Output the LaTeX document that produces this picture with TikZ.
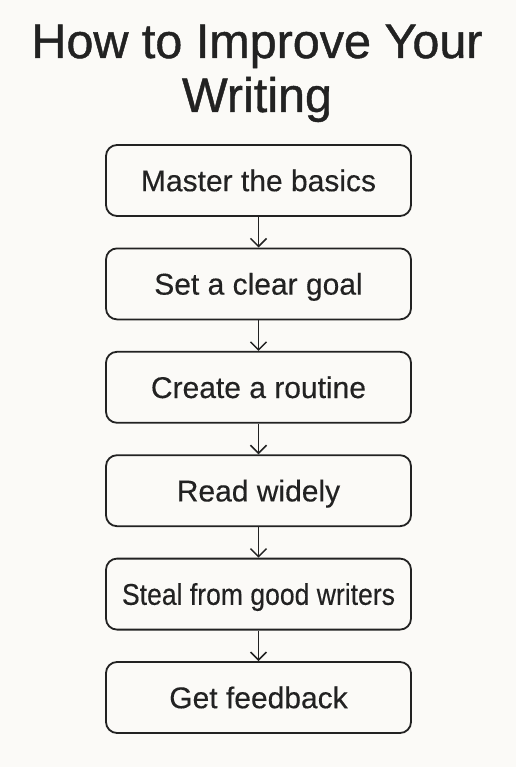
\documentclass[tikz,border=0pt]{standalone}
\usepackage{fontspec}
\setmainfont[FakeBold=0.3]{Liberation Sans}
\newfontfamily\titlefont[FakeBold=0.9]{Liberation Sans}
\usetikzlibrary{arrows.meta}
\definecolor{bg}{HTML}{FBFAF7}
\definecolor{ink}{HTML}{222222}
\begin{document}
\begin{tikzpicture}[x=1pt,y=-1pt,
  stepbox/.style={draw=ink, line width=1.8pt, rounded corners=11pt, minimum width=305pt, minimum height=71pt, inner sep=0pt, text=ink, text height=21.4pt, text depth=0pt, font=\fontsize{30}{34}\selectfont},
  titletext/.style={text=ink, font=\titlefont\fontsize{48.5}{54}\selectfont, inner sep=0pt, anchor=base},
  conn/.style={draw=ink, line width=1.5pt, -{Straight Barb[length=8pt,width=16pt,line width=1.5pt]}}]
\fill[bg] (0,0) rectangle (516,767);
\useasboundingbox (0,0) rectangle (516,767);
\node[titletext] (t1) at (257,58) {How to Improve Your};
\node[titletext] (t2) at (257,112) {Writing};
\node[stepbox] (b1) at (258.5,180.5) {Master the basics};
\node[stepbox] (b2) at (258.5,283.9) {Set a clear goal};
\node[stepbox] (b3) at (258.5,387.3) {Create a routine};
\node[stepbox] (b4) at (258.5,490.7) {Read widely};
\node[stepbox] (b5) at (258.5,594.1) {\scalebox{0.885}[1]{Steal from good writers}};
\node[stepbox] (b6) at (258.5,697.5) {Get feedback};
\foreach \a/\b in {b1/b2,b2/b3,b3/b4,b4/b5,b5/b6}
  \draw[conn] (\a.south) -- (\b.north);
\end{tikzpicture}
\end{document}
